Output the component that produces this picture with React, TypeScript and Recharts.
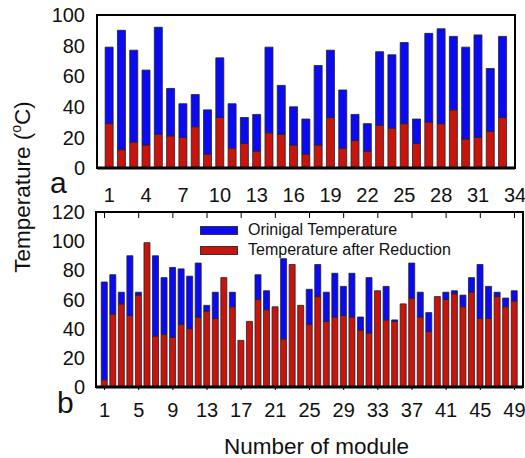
import { Bar, BarChart, ReferenceArea, XAxis, YAxis } from 'recharts';

// panel a: modules 1..33
const topOriginal = [79, 90, 77, 64, 92, 52, 42, 48, 38, 72, 42, 33, 35, 79, 54, 40, 32, 67, 77, 51, 35, 29, 76, 74, 82, 32, 88, 91, 86, 79, 87, 65, 86];
const topReduced = [29, 12, 17, 15, 22, 21, 20, 27, 9, 33, 13, 16, 11, 23, 22, 15, 9, 15, 33, 13, 18, 11, 28, 26, 29, 16, 30, 29, 38, 19, 20, 24, 33];
const topTicks = [1, 4, 7, 10, 13, 16, 19, 22, 25, 28, 31, 34];
const topYTicks = [0, 20, 40, 60, 80, 100];

// panel b: modules 1..49
const bottomOriginal = [72, 77, 65, 90, 65, 99, 90, 75, 82, 81, 76, 85, 56, 65, 75, 65, 32, 45, 77, 66, 55, 88, 84, 56, 67, 84, 65, 78, 69, 78, 48, 75, 66, 69, 46, 57, 85, 65, 51, 62, 65, 66, 63, 75, 84, 69, 65, 61, 66];
const bottomReduced = [5, 50, 57, 49, 63, 99, 35, 36, 34, 43, 40, 48, 52, 47, 75, 55, 32, 45, 60, 53, 55, 33, 84, 56, 43, 62, 45, 48, 49, 48, 39, 37, 66, 46, 45, 57, 61, 48, 38, 62, 60, 64, 55, 65, 47, 47, 62, 55, 59];
const bottomTicks = [1, 5, 9, 13, 17, 21, 25, 29, 33, 37, 41, 45, 49];
const bottomYTicks = [0, 20, 40, 60, 80, 100, 120];

const BLUE = '#0a0af5';
const RED = '#c8140c';
const FONT = '"Liberation Sans", Arial, sans-serif';

// red sits at the bottom, blue shows the part that was cut off
const toRows = (orig: number[], red: number[]) =>
  orig.map((v, i) => ({ module: i + 1, reduced: red[i], rest: Math.max(0, v - red[i]) }));

const topData = toRows(topOriginal, topReduced);
const bottomData = toRows(bottomOriginal, bottomReduced);

const tickStyle = { fill: '#111', fontSize: 20, fontFamily: FONT };
const noLabel = () => <g />;

export default function App() {
  return (
    <div style={{ position: 'absolute', left: 0, top: 0, width: 525, height: 458, background: '#fff', fontFamily: FONT }}>
      <div style={{ position: 'absolute', left: 0, top: 200 }}>
        <BarChart width={525} height={258} data={bottomData} margin={{ top: 12, right: 2, left: 0, bottom: 0 }}>
          <XAxis dataKey="module" type="number" domain={[0, 50]} ticks={bottomTicks} interval={0}
            height={71} tickSize={3} tickMargin={13} tick={tickStyle} tickLine={{ stroke: '#000' }}
            axisLine={{ stroke: '#000', strokeWidth: 3 }}
            label={{ value: 'Number of module', position: 'insideBottom', offset: 4, dx: 7, fill: '#111', fontSize: 22.5, fontFamily: FONT }} />
          <XAxis xAxisId="top" orientation="top" dataKey="module" type="number" domain={[0, 50]} ticks={bottomTicks}
            interval={0} mirror tickSize={6} tick={noLabel} tickLine={{ stroke: '#000' }} axisLine={false} />
          <YAxis type="number" domain={[0, 120]} ticks={bottomYTicks} interval={0} width={96}
            tickLine={false} tickMargin={5} tick={tickStyle} axisLine={{ stroke: '#000', strokeWidth: 2 }} />
          <Bar dataKey="reduced" stackId="b" fill={RED} stroke="#222" strokeWidth={0.8} barSize={6} isAnimationActive={false} />
          <Bar dataKey="rest" stackId="b" fill={BLUE} stroke="#222" strokeWidth={0.8} barSize={6} isAnimationActive={false} />
          <ReferenceArea x1={0} x2={50} y1={0} y2={120} fill="none" stroke="#000" strokeWidth={2} />
        </BarChart>
      </div>

      <div style={{ position: 'absolute', left: 0, top: 0 }}>
        <BarChart width={525} height={210} data={topData} margin={{ top: 15, right: 10, left: 0, bottom: 0 }}>
          <XAxis dataKey="module" type="number" domain={[0, 34]} ticks={topTicks} interval={0}
            height={42} tickLine={false} tickMargin={14} tick={tickStyle}
            axisLine={{ stroke: '#000', strokeWidth: 3 }} />
          <YAxis type="number" domain={[0, 100]} ticks={topYTicks} interval={0} width={97}
            tickLine={false} tickMargin={6} tick={tickStyle} axisLine={{ stroke: '#000', strokeWidth: 2 }} />
          <Bar dataKey="reduced" stackId="t" fill={RED} stroke="#222" strokeWidth={0.8} barSize={8} isAnimationActive={false} />
          <Bar dataKey="rest" stackId="t" fill={BLUE} stroke="#222" strokeWidth={0.8} barSize={8} isAnimationActive={false} />
          <ReferenceArea x1={0} x2={34} y1={0} y2={100} fill="none" stroke="#000" strokeWidth={2} />
        </BarChart>
      </div>

      {/* legend of panel b */}
      <div style={{ position: 'absolute', left: 200, top: 220, fontSize: 16, lineHeight: '20px', color: '#111' }}>
        <div style={{ display: 'flex', alignItems: 'center', gap: 10 }}>
          <span style={{ width: 38, height: 9, background: BLUE, border: '1px solid #333', boxSizing: 'border-box' }} />
          Orinigal Temperature
        </div>
        <div style={{ display: 'flex', alignItems: 'center', gap: 10 }}>
          <span style={{ width: 38, height: 9, background: RED, border: '1px solid #333', boxSizing: 'border-box' }} />
          Temperature after Reduction
        </div>
      </div>

      <div style={{ position: 'absolute', left: 50, top: 168, fontSize: 30, lineHeight: '30px', color: '#111' }}>a</div>
      <div style={{ position: 'absolute', left: 57, top: 388, fontSize: 30, lineHeight: '30px', color: '#111' }}>b</div>

      <div style={{
        position: 'absolute', left: 22, top: 187, transform: 'translate(-50%, -50%) rotate(-90deg)',
        whiteSpace: 'nowrap', fontSize: 22.5, color: '#111',
      }}>
        Temperature (<sup style={{ fontSize: 14 }}>o</sup>C)
      </div>
    </div>
  );
}
